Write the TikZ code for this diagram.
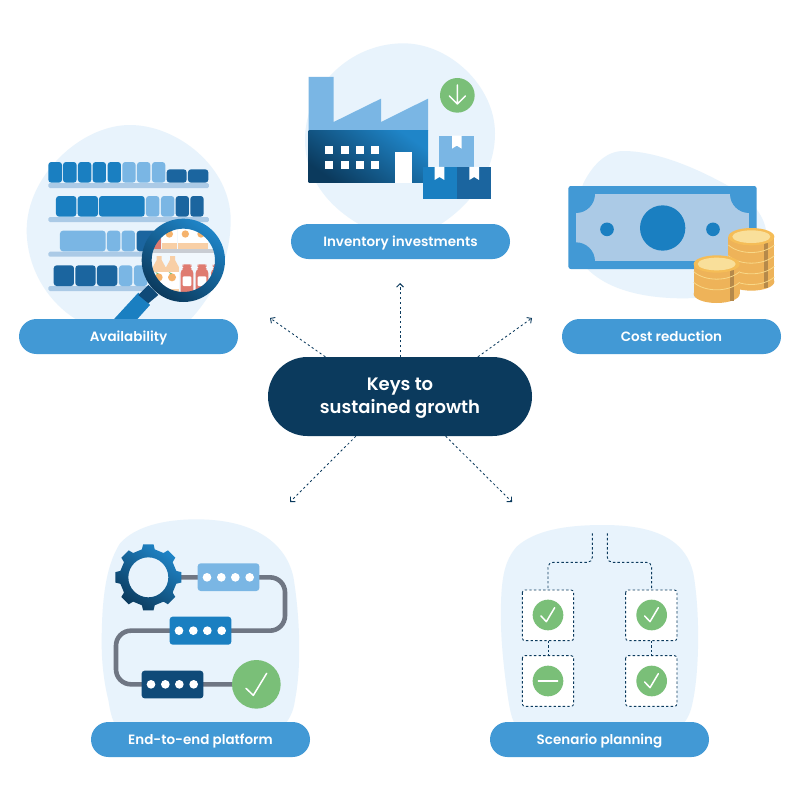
\documentclass[tikz,border=0pt]{standalone}
\usepackage{fontspec}
\setmainfont{Poppins}[BoldFont=* SemiBold]
\usetikzlibrary{arrows.meta,calc}
\definecolor{blob}{HTML}{E8F3FC}
\definecolor{pillblue}{HTML}{4299D5}
\definecolor{navy}{HTML}{0B3A5D}
\definecolor{midblue}{HTML}{1A7FC1}
\definecolor{lightblue}{HTML}{7AB6E4}
\definecolor{darkblue}{HTML}{1B659F}
\definecolor{deepblue}{HTML}{0F4A78}
\definecolor{brightblue}{HTML}{1F85C8}
\definecolor{shelfblue}{HTML}{ABCAE6}
\definecolor{okgreen}{HTML}{7ABF78}
\definecolor{wire}{HTML}{6F7683}
\definecolor{coinside}{HTML}{EEB359}
\definecolor{coinrim}{HTML}{F5BD57}
\definecolor{cointop}{HTML}{F9DF9A}
\definecolor{coinline}{HTML}{F8D888}
\definecolor{coinstrip}{HTML}{B5894A}
\definecolor{peach}{HTML}{F8CFA6}
\definecolor{orangefruit}{HTML}{F5B26B}
\definecolor{bottlered}{HTML}{DF7B70}
\definecolor{shelfgrey}{HTML}{C9CDD3}
\tikzset{
  x=1pt,y=-1pt,
  pill/.style={fill=pillblue,rectangle,rounded corners=17.5pt,minimum width=219pt,minimum height=35pt,inner sep=0pt,text=white,text height=10.5pt,text depth=0pt,font=\bfseries\fontsize{13.5}{16}\selectfont},
  hub/.style={fill=navy,rectangle,rounded corners=39.5pt,minimum width=264pt,minimum height=79pt,inner sep=0pt,text=white,align=center,font=\bfseries\fontsize{18}{23.5}\selectfont},
  flow/.style={navy,line width=.85pt,dash pattern=on 2.2pt off 2.6pt,-{Straight Barb[length=3.5pt,width=7pt,line width=.9pt]}},
  dashline/.style={navy,line width=.9pt,dash pattern=on 2.4pt off 2.2pt},
  metal/.style={top color=brightblue,middle color=darkblue,bottom color=navy,shading angle=-35},
  tick/.style={white,line width=1.5pt,line cap=round,line join=round},
}
\newcommand{\okmark}[2]{\draw[tick] (#1-21,#2+3) -- (#1-5,#2+20) -- (#1+20,#2-22);}
\begin{document}
\begin{tikzpicture}
\useasboundingbox (0,0) rectangle (800,800);
\fill[white] (0,0) rectangle (800,800);

% ---------- Availability
\begin{scope}[shift={(0,110)},scale=1/3]
\fill[blob] (390,45) .. controls (530,45) and (692,170) .. (692,330) .. controls (692,450) and (640,560) .. (560,640) -- (250,640) .. controls (150,590) and (80,480) .. (80,360) .. controls (80,200) and (240,45) .. (390,45) -- cycle;
\foreach \y in {219,321,425,528} \fill[shelfblue,rounded corners=1.5pt] (145,\y) rectangle (627,\y+15);
\foreach \a/\b in {145/186,189/230,234/274,278/318,323/363} \fill[midblue,rounded corners=3pt] (\a,156) rectangle (\b,218);
\foreach \a/\b in {367/407,411/451,456/496} \fill[lightblue,rounded corners=3pt] (\a,156) rectangle (\b,218);
\foreach \a/\b in {500/560,564/625} \fill[darkblue,rounded corners=3pt] (\a,178) rectangle (\b,218);
\foreach \a/\b in {168/229,233/294,297/434} \fill[midblue,rounded corners=3pt] (\a,258) rectangle (\b,320);
\foreach \a/\b in {438/478,483/523} \fill[lightblue,rounded corners=3pt] (\a,258) rectangle (\b,320);
\foreach \a/\b in {527/567,571/611} \fill[darkblue,rounded corners=3pt] (\a,258) rectangle (\b,320);
\foreach \a/\b in {180/317,321/361,365/405} \fill[lightblue,rounded corners=3pt] (\a,362) rectangle (\b,424);
\fill[darkblue,rounded corners=3pt] (410,362) rectangle (470,424);
\foreach \a/\b in {161/222,226/287,291/352} \fill[darkblue,rounded corners=3pt] (\a,466) rectangle (\b,528);
\foreach \a/\b in {357/397,402/442} \fill[lightblue,rounded corners=3pt] (\a,466) rectangle (\b,528);
% handle
\fill[midblue] (335,635) -- (415,548) -- (450,585) -- (405,635) -- cycle;
\fill[deepblue] (415,555) -- (445,525) -- (475,555) -- (445,580) -- cycle;
\end{scope}
\begin{scope}[shift={(130,210)},scale=1/3]
\begin{scope}
\clip (160,151) circle[radius=100];
\fill[blob!60!white] (50,40) rectangle (270,260);
\foreach \a in {95,143,190} {
  \fill[white] (\a,50) rectangle (\a+45,118);
  \fill[peach] (\a,100) rectangle (\a+45,118);
  \fill[orangefruit] (\a+23,72) circle[radius=11];
}
\fill[bottlered] (60,85) rectangle (94,116);
\fill[shelfgrey] (50,118) rectangle (270,128);
\foreach \a in {68,108} {
  \fill[white] (\a,170) rectangle (\a+39,250);
  \fill[peach] (\a,172) -- (\a+12,150) -- (\a+12,138) -- (\a+27,138) -- (\a+27,150) -- (\a+39,172) -- cycle;
  \fill[peach] (\a,172) rectangle (\a+39,186);
  \fill[orangefruit] (\a+18,202) circle[radius=12];
  \fill[peach] (\a,236) rectangle (\a+39,250);
  \fill[okgreen] (\a+8,186) -- (\a+18,190) -- (\a+14,193) -- cycle;
}
\foreach \a in {152,197,243} {
  \fill[bottlered,rounded corners=1.5pt] (\a,185) -- (\a+6,177) -- (\a+9,177) -- (\a+9,168) -- (\a+5,168) -- (\a+5,163) -- (\a+33,163) -- (\a+33,168) -- (\a+29,168) -- (\a+29,177) -- (\a+32,177) -- (\a+38,185) -- (\a+38,252) -- (\a,252) -- cycle;
  \fill[white,rounded corners=1pt] (\a+6,199) rectangle (\a+32,228);
}
\end{scope}
\shade[metal,even odd rule] (160,151) circle[radius=125] (160,151) circle[radius=95];
\end{scope}

% ---------- Inventory investments
\begin{scope}[shift={(280,30)},scale=1/3]
\fill[blob] (370,40) .. controls (510,40) and (645,170) .. (645,310) .. controls (645,430) and (570,530) .. (470,590) -- (250,590) .. controls (140,530) and (75,440) .. (75,330) .. controls (75,170) and (210,40) .. (370,40) -- cycle;
\fill[lightblue] (86,141) -- (161,141) -- (161,276) -- (303,206) -- (303,276) -- (444,206) -- (444,302) -- (86,302) -- cycle;
\shade[metal] (86,302) rectangle (444,459);
\foreach \x in {135,182,228,274} \foreach \y in {349,393} \fill[white] (\x,\y) rectangle (\x+24,\y+24);
\fill[white] (344,366) rectangle (397,459);
\fill[lightblue] (478,317) rectangle (583,411);
\fill[midblue] (428,411) rectangle (531,506);
\fill[darkblue] (531,411) rectangle (634,506);
\foreach \a/\b in {516/317,464/411,568/411} \fill[white] (\a,\b) -- (\a+29,\b) -- (\a+29,\b+39) -- (\a+14.5,\b+30) -- (\a,\b+39) -- cycle;
\fill[okgreen] (532,196) circle[radius=52];
\draw[tick] (532,165) -- (532,222) (508,198) -- (532,222) -- (556,198);
\end{scope}

% ---------- Cost reduction
\begin{scope}[shift={(550,140)},scale=1/3]
\fill[blob] (220,33) .. controls (320,33) and (440,85) .. (530,135) .. controls (600,170) and (650,230) .. (650,290) .. controls (650,420) and (540,475) .. (400,475) .. controls (270,475) and (165,445) .. (105,380) .. controls (80,330) and (70,210) .. (100,130) .. controls (125,80) and (165,33) .. (220,33) -- cycle;
\fill[pillblue,rounded corners=2.5pt] (55,138) rectangle (620,387);
\fill[shelfblue] (78,162) rectangle (597,364);
\begin{scope}
\clip (78,162) rectangle (597,364);
\foreach \a/\b in {78/162,597/162,78/364,597/364} \fill[pillblue] (\a,\b) circle[radius=57];
\end{scope}
\fill[midblue] (338,264) circle[radius=68];
\fill[midblue] (171,268) circle[radius=20.5];
\fill[midblue] (489,268) circle[radius=20.5];
% large stack, then small stack
\foreach \cx/\ty/\by/\lines in {604/290/425/{315,347,379,411},500/372/462/{395,427}} {
  \fill[coinside] (\cx-69,\ty) rectangle (\cx+69,\by);
  \fill[coinside] (\cx,\by) circle[x radius=69,y radius=27];
  \fill[coinstrip] (\cx+39,\ty+18) rectangle (\cx+51,\by+20);
  \foreach \l in \lines \draw[coinline,line width=.8pt] (\cx-69,\l) .. controls (\cx-35,\l+30) and (\cx+35,\l+30) .. (\cx+69,\l);
  \fill[coinrim] (\cx,\ty) circle[x radius=69,y radius=26];
  \fill[cointop] (\cx,\ty) circle[x radius=57,y radius=19];
}
\end{scope}

% ---------- End-to-end platform
\begin{scope}[shift={(80,510)},scale=1/3]
\fill[blob] (350,28) .. controls (510,28) and (615,90) .. (640,200) .. controls (660,320) and (665,470) .. (645,570) .. controls (640,610) and (625,630) .. (610,650) -- (110,650) .. controls (95,630) and (90,600) .. (85,570) .. controls (75,530) and (65,470) .. (65,400) .. controls (65,280) and (75,170) .. (120,100) .. controls (165,50) and (250,28) .. (350,28) -- cycle;
\draw[wire,line width=4.6pt,rounded corners=15pt] (290,202) -- (615,202) -- (615,362) -- (108,362) -- (108,523) -- (530,523);
\shade[metal,even odd rule,shift={(205,202)}] (-13:86) foreach \a in {0,45,...,315} { -- (\a-13:86) -- (\a-9:100) -- (\a+9:100) -- (\a+13:86)} -- cycle (0,0) circle[radius=60];
\fill[lightblue,rounded corners=3pt] (353,160) rectangle (538,243);
\fill[midblue,rounded corners=3pt] (269,320) rectangle (454,404);
\fill[deepblue,rounded corners=3pt] (185,482) rectangle (370,565);
\foreach \x in {381,424,466,509} \fill[white] (\x,202) circle[radius=13];
\foreach \x in {297,340,382,425} \fill[white] (\x,362) circle[radius=13];
\foreach \x in {213,256,298,341} \fill[white] (\x,523) circle[radius=13];
\fill[okgreen] (529,523) circle[radius=73];
\draw[tick] (498,535) -- (520,556) -- (560,490);
\end{scope}

% ---------- Scenario planning
\begin{scope}[shift={(480,510)},scale=1/3]
\fill[blob] (370,45) .. controls (510,45) and (615,80) .. (640,190) .. controls (660,300) and (660,490) .. (635,590) .. controls (630,610) and (620,635) .. (600,650) -- (110,650) .. controls (95,630) and (90,600) .. (85,570) .. controls (70,470) and (60,370) .. (63,280) .. controls (65,200) and (75,150) .. (110,110) .. controls (165,60) and (260,45) .. (370,45) -- cycle;
\draw[dashline,rounded corners=5pt] (337,70) -- (337,157) -- (204,157) -- (204,240);
\draw[dashline,rounded corners=5pt] (382,70) -- (382,157) -- (515,157) -- (515,240);
\draw[dashline] (204,392) -- (204,437);
\draw[dashline] (515,392) -- (515,437);
\foreach \a/\b in {127/240,437/240,127/437,437/437} \draw[dashline,fill=white,rounded corners=2.5pt] (\a,\b) rectangle (\a+154,\b+152);
\foreach \a/\b in {204/315,515/315,204/513,515/513} \fill[okgreen] (\a,\b) circle[radius=46];
\okmark{204}{315}
\okmark{515}{315}
\okmark{515}{513}
\draw[tick] (175,513) -- (233,513);
\end{scope}

% ---------- Labels
\node[pill] (availability) at (128.5,336.5) {Availability};
\node[pill] (inventory) at (400.5,241.5) {Inventory investments};
\node[pill] (cost) at (671.5,336.5) {Cost reduction};
\node[pill] (platform) at (200.5,739.5) {End-to-end platform};
\node[pill] (scenario) at (599.5,739.5) {Scenario planning};
\node[hub] (keys) at (400,396.5) {\rule{0pt}{16pt}Keys to\\sustained growth};

% ---------- Connectors
\coordinate (endA) at (270,318);
\coordinate (endI) at (400,283);
\coordinate (endC) at (532,318);
\coordinate (endP) at (290,502);
\coordinate (endS) at (512,502);
\draw[flow] (keys.north) -- (endI);
\draw[flow] (keys.152.6) -- (endA);
\draw[flow] (keys.27.4) -- (endC);
\draw[flow] (keys.222.6) -- (endP);
\draw[flow] (keys.319.4) -- (endS);
\end{tikzpicture}
\end{document}
